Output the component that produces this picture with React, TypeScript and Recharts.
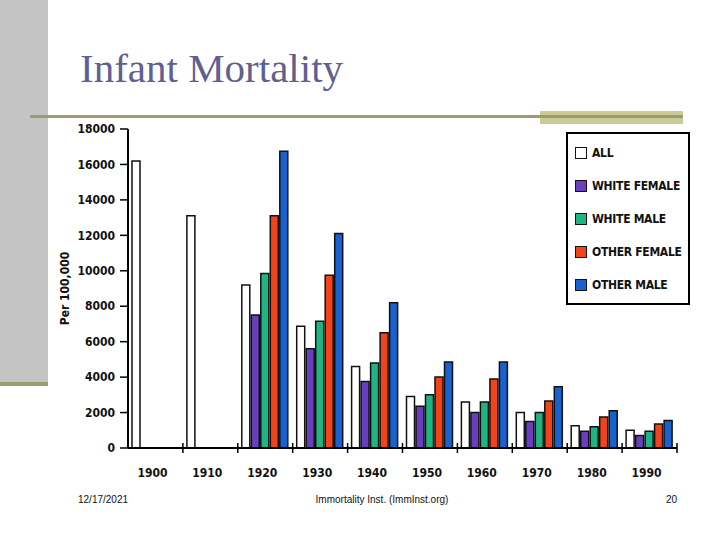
import { BarChart, Bar, XAxis, YAxis } from "recharts";

const years = ["1900", "1910", "1920", "1930", "1940", "1950", "1960", "1970", "1980", "1990"];
const allInfants = [16200, 13100, 9200, 6870, 4600, 2900, 2600, 2000, 1250, 1000];
const whiteFemale = [null, null, 7500, 5600, 3750, 2350, 2000, 1500, 950, 700];
const whiteMale = [null, null, 9850, 7150, 4800, 3000, 2600, 2000, 1200, 950];
const otherFemale = [null, null, 13100, 9750, 6500, 4000, 3900, 2650, 1750, 1350];
const otherMale = [null, null, 16750, 12100, 8200, 4850, 4850, 3450, 2100, 1550];
const yTicks = [0, 2000, 4000, 6000, 8000, 10000, 12000, 14000, 16000, 18000];

const series = [
    { key: "all", name: "ALL", color: "#ffffff", values: allInfants },
    { key: "whiteFemale", name: "WHITE FEMALE", color: "#6a3fbd", values: whiteFemale },
    { key: "whiteMale", name: "WHITE MALE", color: "#1fb482", values: whiteMale },
    { key: "otherFemale", name: "OTHER FEMALE", color: "#f2441a", values: otherFemale },
    { key: "otherMale", name: "OTHER MALE", color: "#1762cf", values: otherMale },
];

const data = years.map((year, i) => {
    const row: Record<string, string | number | null> = { year };
    series.forEach((s) => {
        row[s.key] = s.values[i];
    });
    return row;
});

const narrow = '"Liberation Sans Narrow", "DejaVu Sans Condensed", "Liberation Sans", Arial, sans-serif';
const BAND = 549 / years.length;

const XTick = (props: any) => {
    const { x, payload } = props;
    return (
        <g>
            <line x1={x + BAND / 2} x2={x + BAND / 2} y1={443} y2={453} stroke="#000" strokeWidth={1.5} />
            <text x={x - 3} y={477} textAnchor="middle" fontSize={12} fontWeight={700} fontFamily={narrow} fill="#111">
                {payload.value}
            </text>
        </g>
    );
};

const App = () => {
    return (
        <div style={{ position: "absolute", left: 0, top: 0, width: 720, height: 540, background: "#fff", overflow: "hidden" }}>
            {/* slide decoration */}
            <div style={{ position: "absolute", left: 0, top: 0, width: 48, height: 383, background: "#c4c4c4" }} />
            <div style={{ position: "absolute", left: 0, top: 382, width: 48, height: 4, background: "#9c9c6e" }} />
            <div style={{ position: "absolute", left: 540, top: 111, width: 143, height: 13, background: "#cbcb98" }} />
            <div style={{ position: "absolute", left: 30, top: 115, width: 653, height: 3, background: "#9c9c6e" }} />
            <div
                style={{
                    position: "absolute",
                    left: 80,
                    top: 44,
                    fontFamily: '"Liberation Serif", "Times New Roman", serif',
                    fontSize: 41,
                    color: "#5f6090",
                    lineHeight: "48px",
                    whiteSpace: "nowrap",
                }}
            >
                Infant Mortality
            </div>

            <BarChart
                width={720}
                height={540}
                data={data}
                margin={{ top: 129, right: 43, bottom: 62, left: 68 }}
                barCategoryGap={4}
                barGap={1.5}
                style={{ position: "absolute", left: 0, top: 0 }}
            >
                <XAxis
                    dataKey="year"
                    height={30}
                    axisLine={{ stroke: "#000", strokeWidth: 2 }}
                    tickLine={false}
                    tick={<XTick />}
                    interval={0}
                />
                <YAxis
                    width={60}
                    domain={[0, 18000]}
                    ticks={yTicks}
                    interval={0}
                    axisLine={{ stroke: "#000", strokeWidth: 2 }}
                    tickLine={{ stroke: "#000", strokeWidth: 1.5 }}
                    tickSize={8}
                    tickMargin={5}
                    tick={{ fontSize: 12, fontWeight: 700, fontFamily: narrow, fill: "#111" }}
                    label={(p: any) => {
                        const cy = p.viewBox ? p.viewBox.y + p.viewBox.height / 2 : 252;
                        return (
                            <text
                                x={69}
                                y={cy}
                                transform={`rotate(-90, 69, ${cy})`}
                                textAnchor="middle"
                                fontSize={12}
                                fontWeight={700}
                                fontFamily={narrow}
                                fill="#111"
                            >
                                Per 100,000
                            </text>
                        );
                    }}
                />
                {series.map((s) => (
                    <Bar
                        key={s.key}
                        dataKey={s.key}
                        name={s.name}
                        fill={s.color}
                        stroke="#111"
                        strokeWidth={1.5}
                        isAnimationActive={false}
                    />
                ))}
            </BarChart>

            {/* legend */}
            <div
                style={{
                    position: "absolute",
                    left: 566,
                    top: 132,
                    width: 120,
                    height: 169,
                    border: "2px solid #000",
                    background: "#fff",
                }}
            >
                {series.map((s, i) => (
                    <div
                        key={s.key}
                        style={{
                            position: "absolute",
                            left: 7,
                            top: 12 + i * 33,
                            display: "flex",
                            alignItems: "center",
                            whiteSpace: "nowrap",
                        }}
                    >
                        <div style={{ width: 10, height: 10, background: s.color, border: "1.5px solid #111" }} />
                        <span
                            style={{
                                marginLeft: 5,
                                fontFamily: narrow,
                                fontWeight: 700,
                                fontSize: 12,
                                letterSpacing: -0.3,
                                color: "#111",
                            }}
                        >
                            {s.name}
                        </span>
                    </div>
                ))}
            </div>

            {/* footer */}
            <div style={{ position: "absolute", left: 78, top: 494, fontFamily: '"Liberation Sans", Arial, sans-serif', fontSize: 10, color: "#111" }}>
                12/17/2021
            </div>
            <div
                style={{
                    position: "absolute",
                    left: 282,
                    width: 200,
                    top: 494,
                    textAlign: "center",
                    fontFamily: '"Liberation Sans", Arial, sans-serif',
                    fontSize: 10,
                    color: "#111",
                }}
            >
                Immortality Inst. (ImmInst.org)
            </div>
            <div style={{ position: "absolute", left: 660, width: 17, top: 494, textAlign: "right", fontFamily: '"Liberation Sans", Arial, sans-serif', fontSize: 10, color: "#111" }}>
                20
            </div>
        </div>
    );
};

export default App;
